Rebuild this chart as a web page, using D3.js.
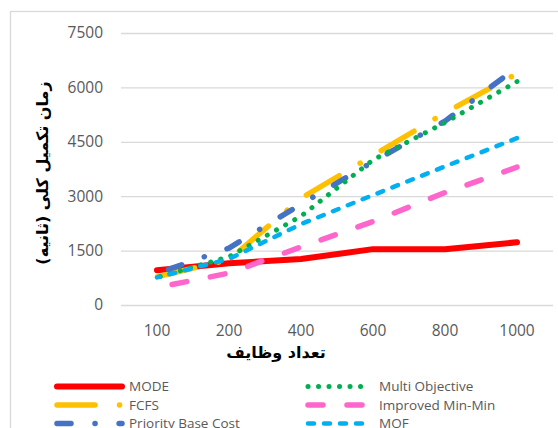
<!DOCTYPE html>
<html>
<head>
<meta charset="utf-8">
<script src="https://cdn.jsdelivr.net/npm/d3@7"></script>
<style>
  html, body { margin: 0; padding: 0; background: #fff; }
  svg { display: block; }
</style>
</head>
<body>
<svg id="chart" width="558" height="428"></svg>
<script>
// Number of tasks (category axis)
const categories = ["100", "200", "400", "600", "800", "1000"];

// Total completion time (seconds) per algorithm
const modeValues      = [960, 1150, 1270, 1540, 1540, 1730];
const fcfsValues      = [780, 1250, 2940, 4120, 5300, 6380];
const priorityValues  = [870, 1570, 2780, 3950, 5070, 6550];
const multiObjValues  = [760, 1330, 2450, 4000, 5030, 6160];
const improvedValues  = [480, 880, 1600, 2300, 3100, 3800];
const mofValues       = [760, 1270, 2230, 3030, 3820, 4600];

const yTicks = [0, 1500, 3000, 4500, 6000, 7500];

// Line styles; endPhase = where in the dash cycle each line should finish
const styles = {
  "MODE":               { color: "#FF0000", width: 6,   dash: null },
  "FCFS":               { color: "#FFC000", width: 5.5, dash: [38, 24.5, 0.1, 24.5], endPhase: 69 },
  "Priority Base Cost": { color: "#4472C4", width: 5.5, dash: [14, 24, 0.1, 24], endPhase: 32 },
  "Multi Objective":    { color: "#00B050", width: 5,   dash: [0.1, 10.4], endPhase: 0.05 },
  "Improved Min-Min":   { color: "#FF66CC", width: 5.5, dash: [15, 24], endPhase: 14 },
  "MOF":                { color: "#00B0F0", width: 4.5, dash: [6, 10], endPhase: 6 }
};

const series = [
  { name: "MODE", values: modeValues },
  { name: "FCFS", values: fcfsValues },
  { name: "Priority Base Cost", values: priorityValues },
  { name: "Multi Objective", values: multiObjValues },
  { name: "Improved Min-Min", values: improvedValues },
  { name: "MOF", values: mofValues }
];

const svg = d3.select("#chart");
const plot = { left: 121, right: 553, top: 33, bottom: 305 };

// Outer chart frame
svg.append("rect")
  .attr("x", 10.5).attr("y", 11.5)
  .attr("width", 600).attr("height", 500)
  .attr("fill", "#fff")
  .attr("stroke", "#D9D9D9").attr("stroke-width", 1.3);

const x = d3.scaleBand().domain(categories).range([plot.left, plot.right]);
const xc = c => x(c) + x.bandwidth() / 2;
const y = d3.scaleLinear().domain([0, 7500]).range([plot.bottom, plot.top]);

// Horizontal gridlines + value labels
const yAxis = svg.append("g")
  .attr("transform", `translate(${plot.left},0)`)
  .call(d3.axisLeft(y).tickValues(yTicks).tickSize(-(plot.right - plot.left)).tickPadding(18).tickFormat(d3.format("d")));
yAxis.select(".domain").remove();
yAxis.selectAll(".tick line").attr("stroke", "#D9D9D9").attr("stroke-width", 1.3);
yAxis.selectAll(".tick text")
  .attr("fill", "#595959")
  .style("font-family", "'Open Sans', sans-serif")
  .style("font-size", "15.5px");

// Category labels
const xAxis = svg.append("g")
  .attr("transform", `translate(0,${plot.bottom})`)
  .call(d3.axisBottom(x).tickSize(0).tickPadding(20));
xAxis.select(".domain").remove();
xAxis.selectAll(".tick text")
  .attr("fill", "#595959")
  .style("font-family", "'Open Sans', sans-serif")
  .style("font-size", "15.5px");

// Axis titles
svg.append("text")
  .attr("x", 276).attr("y", 358)
  .attr("text-anchor", "middle")
  .attr("direction", "rtl")
  .style("font-family", "'DejaVu Sans', sans-serif")
  .style("font-weight", "bold")
  .style("font-size", "16px")
  .attr("fill", "#000")
  .text("تعداد وظایف");

svg.append("text")
  .attr("transform", "translate(48,173) rotate(-90)")
  .attr("text-anchor", "middle")
  .attr("direction", "rtl")
  .style("font-family", "'DejaVu Sans', sans-serif")
  .style("font-weight", "bold")
  .style("font-size", "16px")
  .attr("fill", "#000")
  .text("زمان تکمیل کلی (ثانیه)");

// Series lines
const line = d3.line()
  .x((d, i) => xc(categories[i]))
  .y(d => y(d));

svg.append("g").selectAll("path")
  .data(series)
  .join("path")
  .attr("d", d => line(d.values))
  .attr("fill", "none")
  .attr("stroke", d => styles[d.name].color)
  .attr("stroke-width", d => styles[d.name].width)
  .attr("stroke-linecap", "round")
  .attr("stroke-linejoin", "round")
  .attr("stroke-dasharray", d => styles[d.name].dash ? styles[d.name].dash.join(" ") : null)
  .each(function (d) {
    const st = styles[d.name];
    if (!st.dash) return;
    // shift the dash cycle so the line finishes at the chosen phase
    const period = d3.sum(st.dash);
    const len = this.getTotalLength();
    const offset = ((st.endPhase - len) % period + period) % period;
    d3.select(this).attr("stroke-dashoffset", offset);
  });

// Legend (two columns, three rows)
const legendItems = [
  { name: "MODE", col: 0, row: 0 },
  { name: "FCFS", col: 0, row: 1 },
  { name: "Priority Base Cost", col: 0, row: 2 },
  { name: "Multi Objective", col: 1, row: 0 },
  { name: "Improved Min-Min", col: 1, row: 1 },
  { name: "MOF", col: 1, row: 2 }
];
const colX = [{ x0: 57, x1: 122, tx: 129 }, { x0: 308, x1: 370, tx: 379 }];
const rowY = [386.5, 405, 423.5];

const lg = svg.append("g").selectAll("g")
  .data(legendItems)
  .join("g");
lg.append("line")
  .attr("x1", d => colX[d.col].x0).attr("x2", d => colX[d.col].x1)
  .attr("y1", d => rowY[d.row]).attr("y2", d => rowY[d.row])
  .attr("stroke", d => styles[d.name].color)
  .attr("stroke-width", d => styles[d.name].width)
  .attr("stroke-linecap", "round")
  .attr("stroke-dasharray", d => styles[d.name].dash ? styles[d.name].dash.join(" ") : null);
lg.append("text")
  .attr("x", d => colX[d.col].tx)
  .attr("y", d => rowY[d.row])
  .attr("dy", "0.35em")
  .attr("fill", "#595959")
  .style("font-family", "'Open Sans', sans-serif")
  .style("font-size", "13.5px")
  .text(d => d.name);
</script>
</body>
</html>
